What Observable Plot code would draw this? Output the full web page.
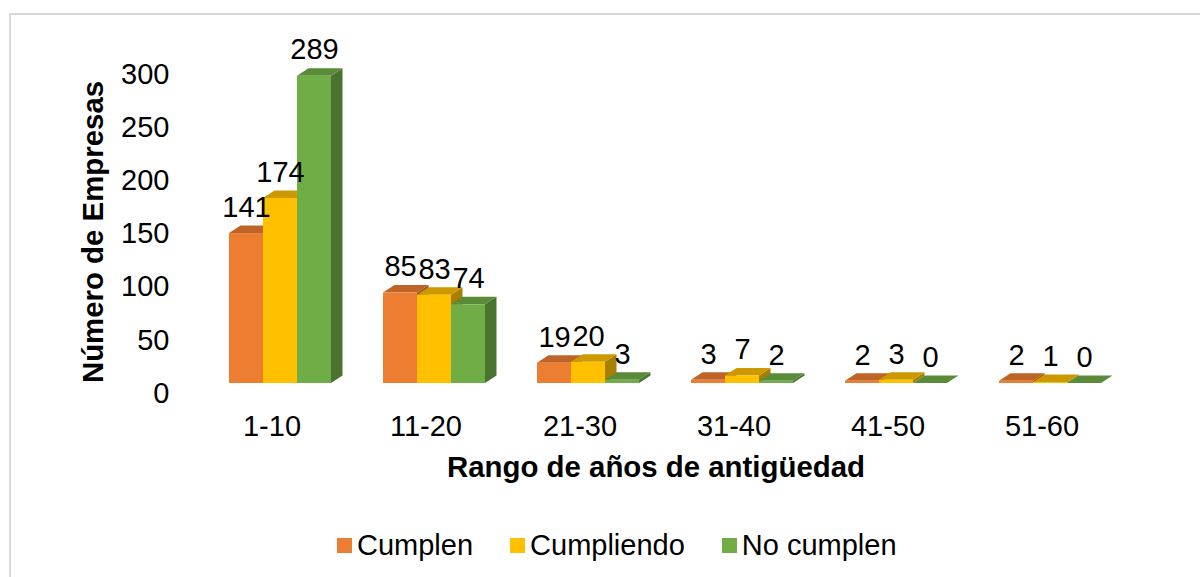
<!DOCTYPE html>
<html>
<head>
<meta charset="utf-8">
<script src="https://cdn.jsdelivr.net/npm/d3@7"></script>
<script src="https://cdn.jsdelivr.net/npm/@observablehq/plot@0.6"></script>
<style>
  body { margin: 0; background: #fff; }
  #wrap { position: relative; width: 1200px; height: 577px; overflow: hidden; font-family: "Liberation Sans", Arial, sans-serif; }
  #frame { position: absolute; left: 9px; top: 13px; width: 1300px; height: 700px; border-left: 2px solid #d9d9d9; border-top: 2px solid #d9d9d9; }
  #chart { position: absolute; left: 0; top: 0; }
  #legend { position: absolute; left: 337px; top: 529px; display: flex; align-items: center; font-size: 29px; line-height: 32px; color: #000; white-space: nowrap; }
  #legend .item { display: flex; align-items: center; margin-right: 37px; }
  #legend .sw { width: 15px; height: 15px; margin-right: 5px; }
  g[aria-label="y-axis label"], g[aria-label="fx-axis label"] { font-weight: bold; font-size: 29.4px; }
</style>
</head>
<body>
<div id="wrap">
  <div id="frame"></div>
  <div id="chart"></div>
  <div id="legend"></div>
</div>
<script>
const categories = ["1-10", "11-20", "21-30", "31-40", "41-50", "51-60"];
const series = ["Cumplen", "Cumpliendo", "No cumplen"];
const cumplen = [141, 85, 19, 3, 2, 2];
const cumpliendo = [174, 83, 20, 7, 3, 1];
const noCumplen = [289, 74, 3, 2, 0, 0];
const colors = ["#ED7D31", "#FFC000", "#70AD47"];
const yTicks = [0, 50, 100, 150, 200, 250, 300];

const seriesValues = [cumplen, cumpliendo, noCumplen];
const data = categories.flatMap((cat, i) =>
  series.map((s, j) => ({cat, series: s, value: seriesValues[j][i]}))
);

const DX = 11.5, DY = 7.5;

function bar3d(data, opts) {
  return Plot.barY(data, {
    ...opts,
    render(index, scales, values) {
      const bw = scales.x.bandwidth();
      const X = values.x, Y1 = values.y1, Y2 = values.y2, F = values.fill;
      const g = d3.create("svg:g");
      for (const i of index) {
        const x0 = X[i], x1 = x0 + bw;
        const yt = Math.min(Y1[i], Y2[i]), yb = Math.max(Y1[i], Y2[i]);
        const c = d3.color(F[i]);
        g.append("path")
          .attr("d", `M${x1},${yt}L${x1 + DX},${yt - DY}L${x1 + DX},${yb - DY}L${x1},${yb}Z`)
          .attr("fill", c.darker(1.15).formatHex());
        g.append("path")
          .attr("d", `M${x0},${yt}L${x1},${yt}L${x1 + DX},${yt - DY}L${x0 + DX},${yt - DY}Z`)
          .attr("fill", c.darker(0.62).formatHex());
        g.append("rect")
          .attr("x", x0).attr("y", yt).attr("width", bw).attr("height", yb - yt)
          .attr("fill", c.formatHex());
      }
      return g.node();
    }
  });
}

const chart = Plot.plot({
  width: 1200,
  height: 500,
  marginTop: 64,
  marginBottom: 117,
  marginLeft: 227,
  marginRight: 99,
  style: {fontFamily: '"Liberation Sans", Arial, sans-serif', fontSize: "29px", color: "#000", background: "transparent", overflow: "visible"},
  fx: {domain: categories, padding: 0.332},
  x: {domain: series, padding: 0, axis: null},
  y: {domain: [0, 300]},
  color: {domain: series, range: colors},
  marks: [
    bar3d(data, {fx: "cat", x: "series", y: "value", fill: "series"}),
    Plot.text(data, {fx: "cat", x: "series", y: "value", text: "value", dy: -26, fontSize: 29, fill: "#000", lineAnchor: "middle"}),
    Plot.axisY({ticks: yTicks, tickSize: 0, tickPadding: 59, dy: 10, fontSize: 29, label: "Número de Empresas", labelAnchor: "center", labelOffset: 146, labelArrow: "none"}),
    Plot.axisFx({anchor: "bottom", tickSize: 0, tickPadding: 32, dx: -8, fontSize: 29, label: "Rango de años de antigüedad", labelAnchor: "center", labelOffset: 95, labelArrow: "none"})
  ]
});
// nudge the axis titles to where the reference puts them
const shift = (sel, dx, dy) => {
  const g = d3.select(chart).select(sel);
  const t = g.attr("transform") || "";
  g.attr("transform", `translate(${dx},${dy}) ${t}`);
};
shift('g[aria-label="y-axis label"]', 0, 8);
shift('g[aria-label="fx-axis label"]', -9, -2);
document.getElementById("chart").appendChild(chart);

const legend = d3.select("#legend");
series.forEach((s, j) => {
  const item = legend.append("div").attr("class", "item");
  item.append("div").attr("class", "sw").style("background", colors[j]);
  item.append("span").text(s);
});
</script>
</body>
</html>
